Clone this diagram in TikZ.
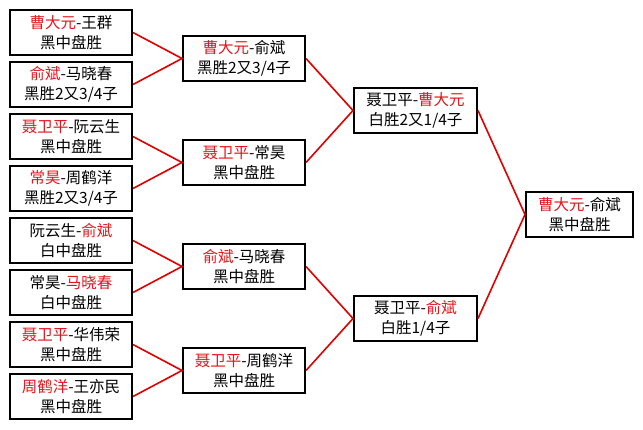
\documentclass[tikz,border=0pt]{standalone}
\usepackage{fontspec}
\setmainfont{Noto Sans CJK SC}
\usepackage{xcolor}
\usepackage{tikz}
\definecolor{winred}{HTML}{E3161C}
\definecolor{linkred}{HTML}{E00000}
\newcommand{\winner}[1]{{\color{winred}#1}}

\begin{document}
\begin{tikzpicture}[x=1pt, y=-1pt,
    match/.style={draw, line width=2pt, minimum width=122pt, minimum height=45pt,
        inner sep=0pt, align=center, font=\fontsize{15.5}{20}\selectfont},
    link/.style={draw=linkred, line width=1.6pt}]
\useasboundingbox[fill=white] (0,0) rectangle (643,429);

% first round
\node[match] (r1a) at (71,32.5)  {\winner{曹大元}-王群\\黑中盘胜};
\node[match] (r1b) at (71,84.5)  {\winner{俞斌}-马晓春\\黑胜2又3/4子};
\node[match] (r1c) at (71,136.5) {\winner{聂卫平}-阮云生\\黑中盘胜};
\node[match] (r1d) at (71,188.5) {\winner{常昊}-周鹤洋\\黑胜2又3/4子};
\node[match] (r1e) at (71,240.5) {阮云生-\winner{俞斌}\\白中盘胜};
\node[match] (r1f) at (71,292.5) {常昊-\winner{马晓春}\\白中盘胜};
\node[match] (r1g) at (71,344.5) {\winner{聂卫平}-华伟荣\\黑中盘胜};
\node[match] (r1h) at (71,396.5) {\winner{周鹤洋}-王亦民\\黑中盘胜};

% second round
\node[match] (r2a) at (244,58.5)  {\winner{曹大元}-俞斌\\黑胜2又3/4子};
\node[match] (r2b) at (244,162.5) {\winner{聂卫平}-常昊\\黑中盘胜};
\node[match] (r2c) at (244,266.5) {\winner{俞斌}-马晓春\\黑中盘胜};
\node[match] (r2d) at (244,370.5) {\winner{聂卫平}-周鹤洋\\黑中盘胜};

% semifinals
\node[match, minimum width=123pt] (r3a) at (415.5,110.5) {聂卫平-\winner{曹大元}\\白胜2又1/4子};
\node[match, minimum width=123pt] (r3b) at (415.5,318.5) {聂卫平-\winner{俞斌}\\白胜1/4子};

% final
\node[match, minimum width=107pt] (fin) at (579.5,214.5) {\winner{曹大元}-俞斌\\黑中盘胜};

\draw[link] (r1a.east) -- (r2a.west) -- (r1b.east);
\draw[link] (r1c.east) -- (r2b.west) -- (r1d.east);
\draw[link] (r1e.east) -- (r2c.west) -- (r1f.east);
\draw[link] (r1g.east) -- (r2d.west) -- (r1h.east);
\draw[link] (r2a.east) -- (r3a.west) -- (r2b.east);
\draw[link] (r2c.east) -- (r3b.west) -- (r2d.east);
\draw[link] (r3a.east) -- (fin.west) -- (r3b.east);
\end{tikzpicture}
\end{document}
